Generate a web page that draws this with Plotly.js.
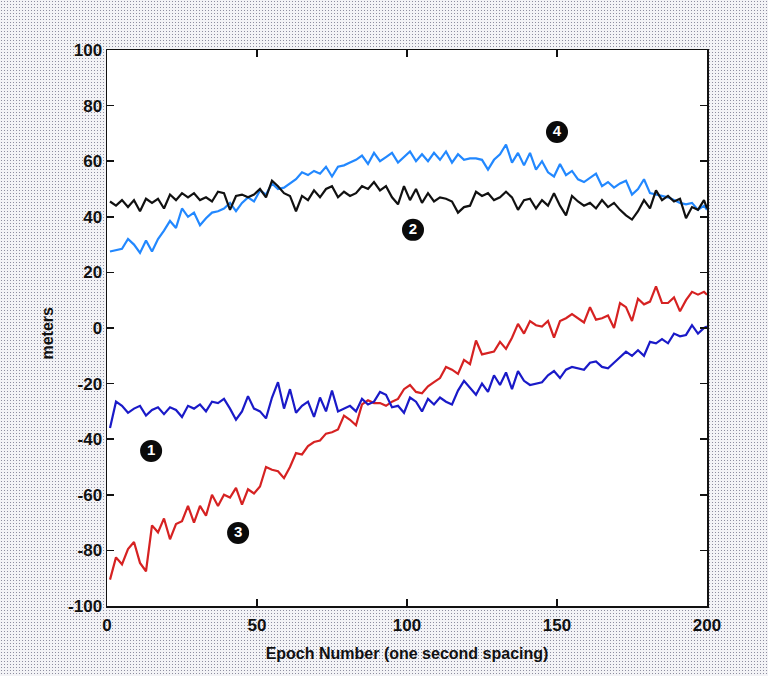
<!DOCTYPE html>
<html>
<head>
<meta charset="utf-8">
<script src="https://cdn.plot.ly/plotly-3.0.1.min.js"></script>
<style>
html,body{margin:0;padding:0;}
body{width:768px;height:676px;background-color:#f3f3f6;background-image:radial-gradient(circle,#8e8ea0 0.7px,rgba(0,0,0,0) 1px);background-size:3px 3px;}
#chart{width:768px;height:676px;}
</style>
</head>
<body>
<div id="chart"></div>
<script>
const epochs = [1,3,5,7,9,11,13,15,17,19,21,23,25,27,29,31,33,35,37,39,41,43,45,47,49,51,53,55,57,59,61,63,65,67,69,71,73,75,77,79,81,83,85,87,89,91,93,95,97,99,101,103,105,107,109,111,113,115,117,119,121,123,125,127,129,131,133,135,137,139,141,143,145,147,149,151,153,155,157,159,161,163,165,167,169,171,173,175,177,179,181,183,185,187,189,191,193,195,197,199,200];

const series1 = [-36,-26.5,-28,-30.5,-29,-28,-31.5,-29.5,-28.5,-31,-28.5,-29.5,-32,-28,-29,-27.5,-30,-26.5,-27,-25.5,-29,-33,-30,-24.5,-29,-30,-32.5,-25,-19.5,-29,-22,-30.5,-28,-26.5,-32,-25,-30,-22.5,-30,-29,-28,-30,-25.5,-27.5,-26.5,-23,-24,-28.5,-28,-30.5,-25,-26.5,-30,-25.5,-27.5,-25,-26.5,-27.5,-22.5,-19,-21.5,-24,-20,-23,-17,-20.5,-16,-22,-15.5,-19,-20.5,-20,-19.5,-17,-15.5,-18,-15,-14,-14.5,-15,-12.5,-12,-14,-14.5,-12.5,-10.5,-8.5,-10,-8,-10,-5,-5.5,-4,-5.5,-2,-3,-2.5,1,-2,0,0.5];

const series2 = [45.5,44,46,43.5,46,42,46.5,45,46.5,43,48,46,48.5,47,48.5,46,47,45.5,49,48.5,42.5,47.5,48,47,48,50,47,53,51,48.5,47.5,42,47.5,46,49.5,47,50,51,47,49,47.5,48.5,51,50,52.5,49.5,51,47,44.5,51,46,50,45,48.5,45.5,47,46.5,45.5,41.5,43.5,44,49,47.5,48.5,46,47,49,47,42.5,46,46.5,43,46,44,48.5,44,40.5,47.5,45.5,44,45,43,46,43.5,45,42.5,40.5,39,42,46,43,49.5,46,47.5,45.5,46.5,39.5,43.5,42.5,46,43];

const series3 = [-90.5,-82.5,-85,-79.5,-77,-84.5,-87.5,-71,-73.5,-68.5,-76,-70.5,-69.5,-64,-70,-64,-67.5,-60,-64,-60,-61,-57.5,-63.5,-58,-59.5,-57,-50,-51,-51.5,-54,-50,-45,-45.5,-42.5,-41,-40.5,-38,-37.5,-36.5,-31.5,-33,-35,-27.5,-26,-27,-27,-28,-26.5,-25.5,-22,-20.5,-23,-23.5,-21,-19.5,-18,-14,-15,-16.5,-11.5,-13,-4.5,-9.5,-9,-8.5,-5,-7.5,-3.5,1.5,-2,2.5,1,0.5,2.5,-3.5,2.5,3.5,5,3.5,2,7.5,3,3.5,4.5,0,9,7.5,2.5,10.5,8.5,9.5,15,9,9,11,6,10,13,12,13,12];

const series4 = [27.5,28,28.5,32,30,27,31.5,27.5,32,35,38.5,36,43,40,41.5,37,39.5,41.5,42,43,45,42,45,47,45.5,49.5,48,52,50,50.5,52,53.5,56,55,56.5,55.5,58,54.5,58,58.5,59.5,60.5,62,59,63,60,61.5,63,59.5,61.5,63.5,60,62.5,60,63,60.5,63.5,59.5,62.5,60.5,61,61,60.5,57,60.5,62.5,66,59.5,63,58.5,63,57,60,56,54.5,59,55,56.5,53.5,52.5,54,55.5,51,52.5,50.5,52,53,48,50,53.5,48.5,48,47.5,47,46,45,44.5,45,42.5,44,42.5];

const labelText = ["1","2","3","4"];
const labelX = [14.7, 102, 43.7, 150];
const labelY = [-44.2, 35.3, -73.7, 70.5];

const xTicks = [0,50,100,150,200];
const yTicks = [-100,-80,-60,-40,-20,0,20,40,60,80,100];

const FONT = 'Liberation Sans, Arial, sans-serif';

const traces = [
  {x: epochs, y: series4, type:'scatter', mode:'lines', line:{color:'#2288ff', width:2.2}, hoverinfo:'skip'},
  {x: epochs, y: series2, type:'scatter', mode:'lines', line:{color:'#111111', width:2.2}, hoverinfo:'skip'},
  {x: epochs, y: series3, type:'scatter', mode:'lines', line:{color:'#d62222', width:2.2}, hoverinfo:'skip'},
  {x: epochs, y: series1, type:'scatter', mode:'lines', line:{color:'#1a1ac8', width:2.2}, hoverinfo:'skip'},
  {x: labelX, y: labelY, type:'scatter', mode:'markers+text', text: labelText,
   textposition:'middle center', textfont:{family:FONT, size:15, color:'#ffffff', weight:'bold'},
   marker:{color:'#0a0a0a', size:22, line:{width:0}}, hoverinfo:'skip', cliponaxis:false}
];

const axisCommon = {
  showgrid:false, zeroline:false, showline:true, linecolor:'#111', linewidth:1.5,
  mirror:'ticks', ticks:'inside', ticklen:7, tickwidth:1.5, tickcolor:'#111',
  tickfont:{family:FONT, size:17, color:'#111', weight:'bold'}
};

const layout = {
  width:768, height:676,
  margin:{l:107, r:61, t:50, b:70},
  paper_bgcolor:'rgba(0,0,0,0)',
  plot_bgcolor:'#ffffff',
  showlegend:false,
  xaxis: Object.assign({}, axisCommon, {
    range:[0,200], tickvals:xTicks, ticktext:xTicks.map(String), ticklabelstandoff:3,
    title:{text:'Epoch Number (one second spacing)', standoff:14,
      font:{family:FONT, size:16, color:'#111', weight:'bold'}}
  }),
  yaxis: Object.assign({}, axisCommon, {
    range:[-100,100], tickvals:yTicks, ticktext:yTicks.map(String),
    title:{text:''}
  }),
  annotations:[
    {text:'meters', xref:'paper', yref:'paper', x:0, y:0.49, xanchor:'center', yanchor:'middle',
     xshift:-59, textangle:-90, showarrow:false,
     font:{family:FONT, size:16, color:'#111', weight:'bold'}}
  ]
};

Plotly.newPlot('chart', traces, layout, {staticPlot:true, displayModeBar:false});
</script>
</body>
</html>
